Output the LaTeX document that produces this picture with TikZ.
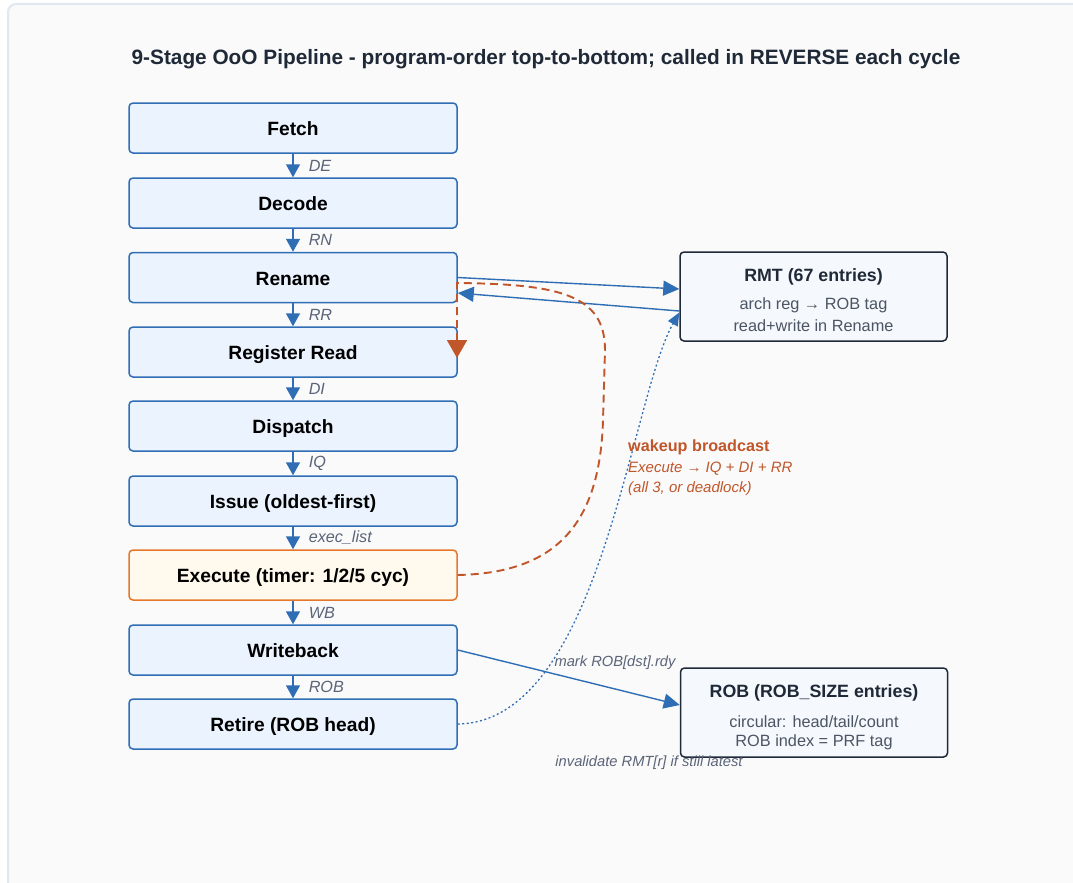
\documentclass[tikz,border=0pt]{standalone}
\usepackage{fontspec}
\setmainfont{Liberation Sans}
\usetikzlibrary{arrows.meta}
\definecolor{stagefill}{HTML}{EBF3FE}
\definecolor{stageline}{HTML}{2F6DB5}
\definecolor{exfill}{HTML}{FFF9EE}
\definecolor{exline}{HTML}{E4772A}
\definecolor{wake}{HTML}{C0562A}
\definecolor{tblfill}{HTML}{F5F8FC}
\definecolor{tblline}{HTML}{1F2937}
\definecolor{subgray}{HTML}{4B5563}
\definecolor{lblgray}{HTML}{5B6478}
\definecolor{framefill}{HTML}{FAFAFA}
\definecolor{frameline}{HTML}{E2E8F0}
\begin{document}
\begin{tikzpicture}[x=1pt,y=-1pt,
  stagebox/.style={draw=stageline, fill=stagefill, line width=1.5pt, rounded corners=4pt,
    minimum width=328pt, minimum height=50pt, inner sep=0pt, text height=16pt, text depth=0.2pt,
    font=\fontsize{19.2}{22}\selectfont\bfseries, text=black},
  exbox/.style={stagebox, draw=exline, fill=exfill},
  tblbox/.style={draw=tblline, fill=tblfill, line width=1.5pt, rounded corners=4pt,
    minimum width=267pt, minimum height=89pt, inner sep=0pt},
  tbltitle/.style={font=\fontsize{17.8}{21}\selectfont\bfseries, text=tblline},
  tblsub/.style={font=\fontsize{16.3}{19}\selectfont, text=subgray},
  pipe/.style={draw=stageline, line width=1.5pt, -{Triangle[length=13pt,width=14pt]}},
  pipelbl/.style={font=\fontsize{16.2}{19}\selectfont\itshape, text=lblgray, right, inner sep=0pt, xshift=15pt},
  link/.style={draw=stageline, line width=1.4pt, -{Triangle[length=16pt,width=15pt]}},
  dotlink/.style={draw=stageline, line width=1.3pt, dash pattern=on 2pt off 2.5pt, -{Triangle[length=13pt,width=11pt]}},
  wakelink/.style={draw=wake, line width=1.9pt, dash pattern=on 8pt off 5pt, -{Triangle[length=18pt,width=20pt]}},
  freelbl/.style={font=\fontsize{14.7}{17}\selectfont\itshape, text=lblgray, inner sep=0pt},
  wakelbl/.style={font=\fontsize{15}{18}\selectfont\itshape, text=wake, anchor=west, inner sep=0pt}
]
\useasboundingbox (0,0) rectangle (1073,883);
\fill[white] (0,0) rectangle (1073,883);
\draw[fill=framefill, draw=frameline, line width=2pt, rounded corners=8pt] (8,4) rectangle (1120,930);

\node[font=\fontsize{20.8}{24}\selectfont\bfseries, text=tblline] (title) at (546,59)
  {9-Stage OoO Pipeline - program-order top-to-bottom; called in REVERSE each cycle};

\node[stagebox] (fetch)  at (293,128) {Fetch};
\node[stagebox] (decode) at (293,203) {Decode};
\node[stagebox] (rename) at (293,277.5) {Rename};
\node[stagebox] (rr)     at (293,352) {Register Read};
\node[stagebox] (disp)   at (293,426) {Dispatch};
\node[stagebox] (issue)  at (293,501) {Issue (oldest-first)};
\node[exbox]    (exec)   at (293,575) {Execute (timer: 1/2/5 cyc)};
\node[stagebox] (wb)     at (293,650) {Writeback};
\node[stagebox] (retire) at (293,724) {Retire (ROB head)};

\draw[pipe] (fetch.south) -- node[pipelbl] {DE} (decode.north);
\draw[pipe] (decode.south) -- node[pipelbl] {RN} (rename.north);
\draw[pipe] (rename.south) -- node[pipelbl] {RR} (rr.north);
\draw[pipe] (rr.south) -- node[pipelbl] {DI} (disp.north);
\draw[pipe] (disp.south) -- node[pipelbl] {IQ} (issue.north);
\draw[pipe] (issue.south) -- node[pipelbl] {exec\_list} (exec.north);
\draw[pipe] (exec.south) -- node[pipelbl] {WB} (wb.north);
\draw[pipe] (wb.south) -- node[pipelbl] {ROB} (retire.north);

\node[tblbox] (rmt) at (813.5,296.5) {};
\node[tbltitle] (rmtt) at (813.5,277) {RMT (67 entries)};
\node[tblsub] (rmts1) at (813.5,305) {arch reg → ROB tag};
\node[tblsub] (rmts2) at (813.5,326) {read+write in Rename};

\node[tblbox] (rob) at (814,712.5) {};
\node[tbltitle] (robt) at (814,693) {ROB (ROB\_SIZE entries)};
\node[tblsub] (robs1) at (814,722) {circular: head/tail/count};
\node[tblsub] (robs2) at (814,742) {ROB index = PRF tag};

% Rename <-> RMT
\draw[link] (rename.east) -- ([yshift=7.5pt]rmt.west);
\draw[link] ([yshift=-14.5pt]rmt.west) -- ([yshift=-15.5pt]rename.east);

% Writeback -> ROB
\draw[link] (wb.east) -- ([yshift=7.5pt]rob.west);
\node[freelbl] (marklbl) at (615,663) {mark ROB[dst].rdy};

% Retire -> RMT (dotted)
\draw[dotlink] (retire.east) .. controls (600,722) and (630,400) .. ([yshift=-16pt]rmt.west);
\node[freelbl] (invlbl) at (649,763) {invalidate RMT[r] if still latest};

% wakeup broadcast
\coordinate (wk1) at (457,283);
\coordinate (wk2) at (457,358);
\draw[wakelink] (exec.east) .. controls (560,573) and (600,520) .. (603,420)
  -- (605,350) .. controls (605,295) and (560,284) .. (wk1) -- (wk2);
\node[anchor=west, inner sep=0pt, font=\fontsize{16.2}{19}\selectfont\bfseries, text=wake] (wkt) at (628,447) {wakeup broadcast};
\node[wakelbl] (wk1t) at (628,469) {Execute → IQ + DI + RR};
\node[wakelbl] (wk2t) at (628,489) {(all 3, or deadlock)};
\end{tikzpicture}
\end{document}
